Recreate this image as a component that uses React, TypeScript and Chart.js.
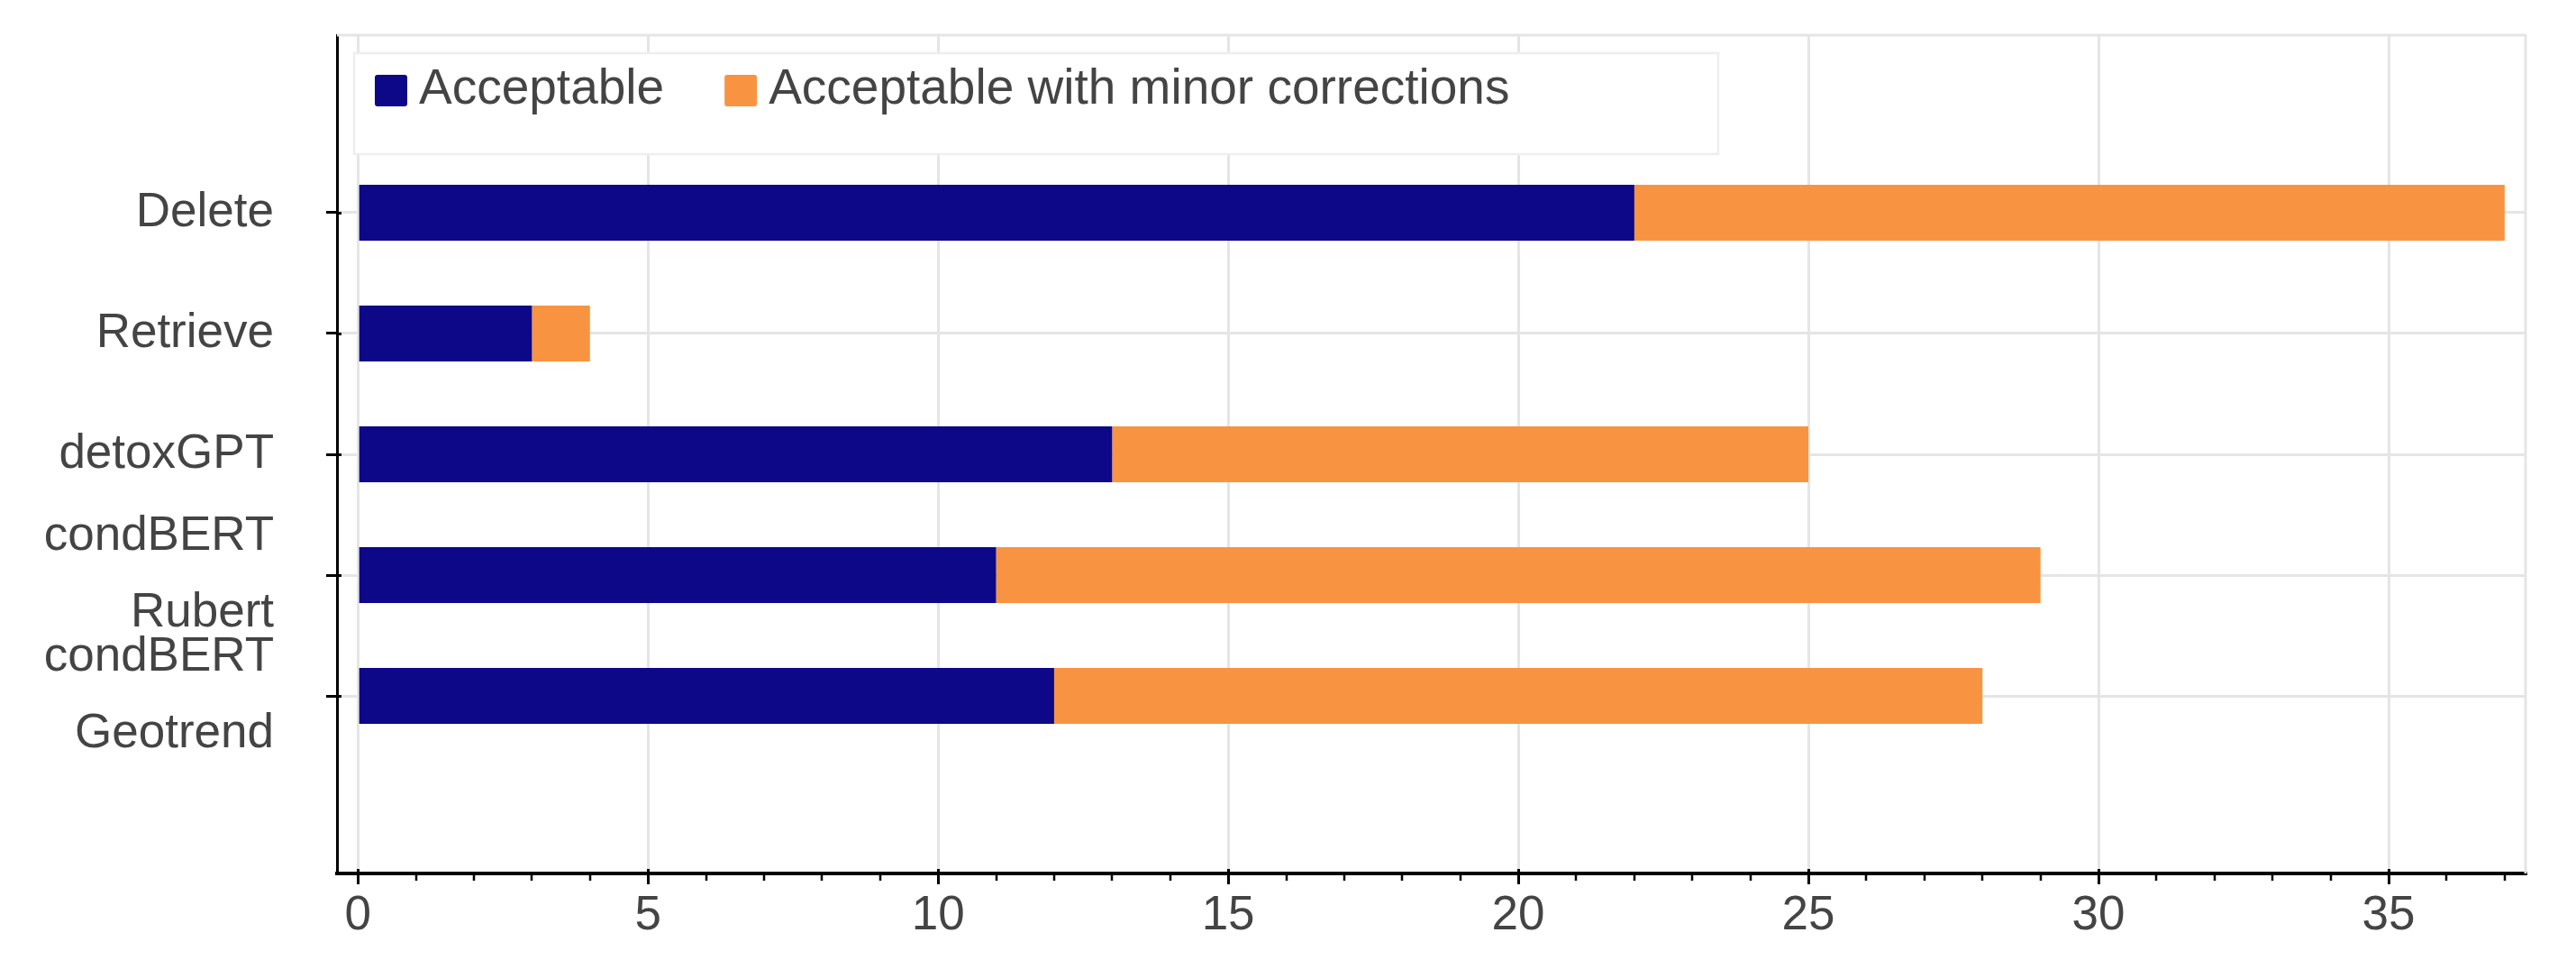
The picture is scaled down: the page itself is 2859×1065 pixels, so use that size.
import React, { useEffect, useRef } from 'react';
import { Chart, registerables } from 'chart.js';

Chart.register(...registerables);

// ---- data ----
const categories: (string | string[])[] = [
  'Delete',
  'Retrieve',
  'detoxGPT',
  ['condBERT', 'Rubert'],
  ['condBERT', 'Geotrend'],
];
const categoryIndex = [0, 1, 2, 3, 4];
const acceptable = [22, 3, 13, 11, 12];
const minorCorrections = [15, 1, 12, 18, 16];
const seriesNames = ['Acceptable', 'Acceptable with minor corrections'];
const seriesColors = ['#0d0887', '#f89441'];
const xTickValues = [0, 5, 10, 15, 20, 25, 30, 35];
const xMinorTickValues = [1, 2, 3, 4, 6, 7, 8, 9, 11, 12, 13, 14, 16, 17, 18, 19, 21, 22, 23, 24, 26, 27, 28, 29, 31, 32, 33, 34, 36, 37];

const FONT = '"Liberation Sans", Arial, Helvetica, sans-serif';
const TEXT = '#444444';
const GRID = '#e5e5e5';

const framePlugin = {
  id: 'frame',
  beforeDatasetsDraw(chart: any) {
    const { ctx, chartArea: a } = chart;
    ctx.save();
    ctx.strokeStyle = GRID;
    ctx.lineWidth = 3;
    ctx.beginPath();
    ctx.moveTo(a.left, a.top);
    ctx.lineTo(a.right, a.top);
    ctx.lineTo(a.right, a.bottom);
    ctx.stroke();
    ctx.restore();
  },
};

const tickPlugin = {
  id: 'extraTicks',
  afterDraw(chart: any) {
    const { ctx, chartArea: a } = chart;
    const xs = chart.scales.x;
    const ys = chart.scales.y;
    ctx.save();
    ctx.strokeStyle = '#000';
    // minor ticks on x
    ctx.lineWidth = 2.5;
    ctx.beginPath();
    xMinorTickValues.forEach((v) => {
      const px = Math.round(xs.getPixelForValue(v));
      ctx.moveTo(px, a.bottom);
      ctx.lineTo(px, a.bottom + 8);
    });
    ctx.stroke();
    // inward parts of major ticks
    ctx.lineWidth = 3;
    ctx.beginPath();
    xTickValues.forEach((v) => {
      const px = Math.round(xs.getPixelForValue(v)) + 0.5;
      ctx.moveTo(px, a.bottom);
      ctx.lineTo(px, a.bottom - 5);
    });
    categoryIndex.forEach((v) => {
      const py = Math.round(ys.getPixelForValue(v)) + 0.5;
      ctx.moveTo(a.left, py);
      ctx.lineTo(a.left + 5, py);
    });
    ctx.stroke();
    ctx.restore();
  },
};

const legendPlugin = {
  id: 'boxLegend',
  afterDraw(chart: any) {
    const { ctx, chartArea: a } = chart;
    const bx = a.left + 19;
    const by = a.top + 20;
    const bw = 1514;
    const bh = 112;
    ctx.save();
    ctx.fillStyle = '#ffffff';
    ctx.fillRect(bx, by, bw, bh);
    ctx.strokeStyle = '#eeeeee';
    ctx.lineWidth = 2.5;
    ctx.strokeRect(bx, by, bw, bh);
    ctx.font = `55px ${FONT}`;
    ctx.textBaseline = 'alphabetic';
    ctx.textAlign = 'left';
    let x = bx + 23;
    chart.data.datasets.forEach((ds: any) => {
      ctx.fillStyle = ds.backgroundColor;
      ctx.beginPath();
      if (ctx.roundRect) ctx.roundRect(x, by + 24, 36, 35, 3);
      else ctx.rect(x, by + 24, 36, 35);
      ctx.fill();
      ctx.fillStyle = TEXT;
      ctx.fillText(ds.label, x + 49, by + 56);
      x += 49 + ctx.measureText(ds.label).width + 67;
    });
    ctx.restore();
  },
};

export default function App() {
  const canvasRef = useRef<HTMLCanvasElement | null>(null);

  useEffect(() => {
    if (!canvasRef.current) return;
    const chart = new Chart(canvasRef.current, {
      type: 'bar',
      data: {
        datasets: [
          {
            label: seriesNames[0],
            data: categoryIndex.map((i) => ({ x: acceptable[i], y: i })),
            backgroundColor: seriesColors[0],
            categoryPercentage: 1,
            barPercentage: 0.463,
          },
          {
            label: seriesNames[1],
            data: categoryIndex.map((i) => ({ x: minorCorrections[i], y: i })),
            backgroundColor: seriesColors[1],
            categoryPercentage: 1,
            barPercentage: 0.463,
          },
        ],
      },
      options: {
        indexAxis: 'y',
        animation: false,
        responsive: true,
        maintainAspectRatio: false,
        devicePixelRatio: 1,
        layout: { padding: { top: 39, right: 56, left: 0, bottom: 0 } },
        plugins: {
          legend: { display: false },
          tooltip: { enabled: false },
        },
        scales: {
          x: {
            type: 'linear',
            stacked: true,
            offset: false,
            min: -0.36,
            max: 37.36,
            afterBuildTicks: (scale: any) => {
              scale.ticks = xTickValues.map((v) => ({ value: v }));
            },
            afterFit: (scale: any) => {
              scale.height = 96;
              scale.paddingLeft = 0;
              scale.paddingRight = 0;
            },
            grid: {
              offset: false,
              color: GRID,
              lineWidth: 3,
              tickColor: '#000',
              tickWidth: 3,
              tickLength: 12,
            },
            border: { color: '#000', width: 4 },
            ticks: {
              color: TEXT,
              font: { family: FONT, size: 53, lineHeight: 1.2 },
              padding: 4,
              maxRotation: 0,
              callback: (v: any) => String(v),
            },
          },
          y: {
            type: 'linear',
            stacked: true,
            reverse: true,
            offset: false,
            min: -1.47,
            max: 5.47,
            afterBuildTicks: (scale: any) => {
              scale.ticks = categoryIndex.map((v) => ({ value: v }));
            },
            afterFit: (scale: any) => {
              scale.width = 374;
              scale.paddingTop = 0;
              scale.paddingBottom = 0;
            },
            grid: {
              offset: false,
              color: GRID,
              lineWidth: 3,
              tickColor: '#000',
              tickWidth: 3,
              tickLength: 12,
            },
            border: { color: '#000', width: 3 },
            ticks: {
              color: TEXT,
              font: { family: FONT, size: 53, lineHeight: 1.6 },
              padding: 58,
              callback: (v: any) => categories[v as number],
            },
          },
        },
      },
      plugins: [framePlugin, tickPlugin, legendPlugin],
    } as any);
    return () => chart.destroy();
  }, []);

  return (
    <div style={{ position: 'fixed', left: 0, top: 0, width: 2859, height: 1065, background: '#fff' }}>
      <canvas ref={canvasRef} />
    </div>
  );
}
